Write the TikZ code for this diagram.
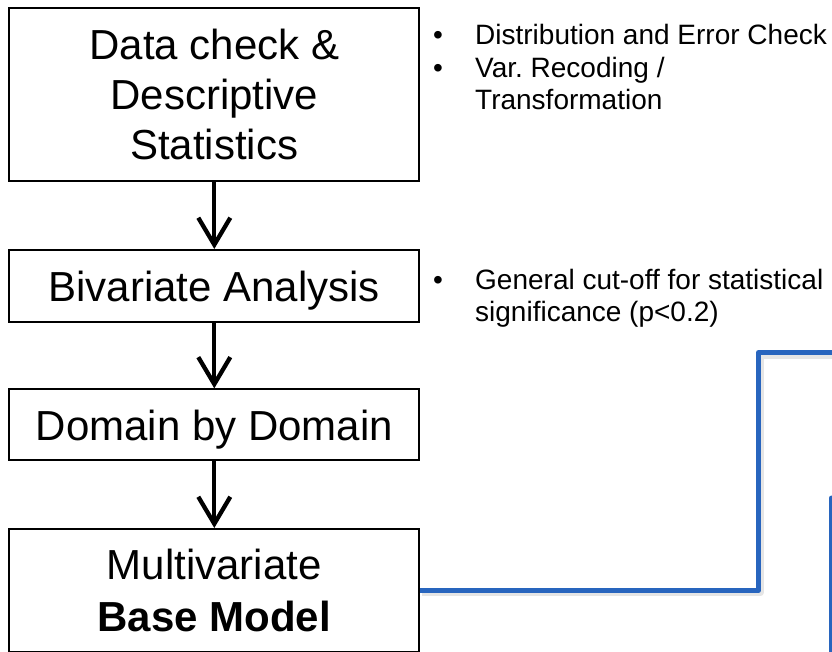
\documentclass[tikz,border=0pt]{standalone}
\usepackage{fontspec}
\setmainfont{Liberation Sans}
\usetikzlibrary{arrows.meta}
\definecolor{linkblue}{RGB}{40,101,190}
\newcommand\boxfont{\fontsize{42}{50}\selectfont}
\newcommand\basefont{\fontsize{42}{52}\selectfont}
\newcommand\notefont{\fontsize{28}{33}\selectfont}
\frenchspacing
\begin{document}
\begin{tikzpicture}[x=1pt,y=-1pt,
  stepbox/.style={draw=black, line width=2pt, inner sep=0pt, font=\boxfont, align=center},
  flow/.style={line width=4.3pt, -{Straight Barb[length=27pt,width=32pt]}},
  note/.style={anchor=base west, inner sep=0pt, font=\notefont},
  dot/.style={anchor=base, inner sep=0pt, font=\notefont},
  link/.style={draw=linkblue, line width=5pt, line join=round},
  linkshadow/.style={draw=black, line width=7pt, opacity=0.10, line join=round}
]
\useasboundingbox (0,0) rectangle (832,651);

% process steps
\node[stepbox, minimum width=410pt, minimum height=173pt] (check) at (214.3,94.5)
  {Data check \&\\Descriptive\\Statistics};
\node[stepbox, minimum width=410pt, minimum height=71.7pt, text height=32pt, text depth=0pt] (biv) at (214.3,285.8)
  {Bivariate Analysis};
\node[stepbox, minimum width=410pt, minimum height=70.7pt, text height=32pt, text depth=0pt] (dom) at (214.3,424.7)
  {Domain by Domain};
\node[stepbox, font=\basefont, minimum width=410pt, minimum height=122.8pt] (base) at (214.3,590.4)
  {Multivariate\\\textbf{Base Model}};

% flow arrows
\draw[flow] (check.south) -- (biv.north);
\draw[flow] (biv.south) -- (dom.north);
\draw[flow] (dom.south) -- (base.north);

% notes for the first step
\node[dot]  (d1) at (438,44) {•};
\node[note] (n1) at (475,44) {Distribution and Error Check};
\node[dot]  (d2) at (438,77) {•};
\node[note] (n2) at (475,77) {Var. Recoding /};
\node[note] (n3) at (475,109) {Transformation};

% notes for the second step
\node[dot]  (d3) at (438,289) {•};
\node[note] (n4) at (475,289) {General cut-off for statistical};
\node[note] (n5) at (475,321) {significance (p<0.2)};

% connectors leaving the base model
\coordinate (riser) at (758.5,352.5);
\coordinate (linkend) at (845,352.5);
\coordinate (droptop) at (831.5,498);
\coordinate (dropend) at (831.5,670);

\begin{scope}[transform canvas={shift={(1.5pt,-2.5pt)}}]
  \draw[linkshadow] (base.east) -| (riser) -- (linkend);
  \draw[linkshadow] (droptop) -- (dropend);
\end{scope}
\draw[link] (base.east) -| (riser) -- (linkend);
\draw[link, line cap=round] (droptop) -- (dropend);
\end{tikzpicture}
\end{document}
